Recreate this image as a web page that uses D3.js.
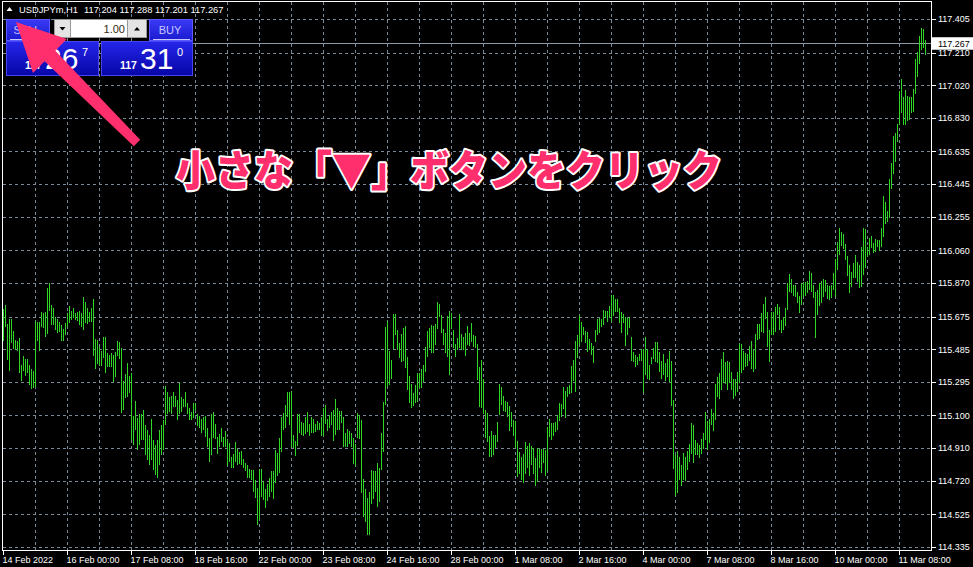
<!DOCTYPE html>
<html><head><meta charset="utf-8">
<script src="https://cdn.jsdelivr.net/npm/d3@7/dist/d3.min.js"></script>
<style>html,body{margin:0;padding:0;background:#000;overflow:hidden}</style>
</head><body>
<svg id="c" width="973" height="567"></svg>
<script>
// ---------- DATA ----------
const symbolTitle = "USDJPYm,H1";
const ohlcLast = ["117.204","117.288","117.201","117.267"];
const currentPrice = 117.267;
const priceTicks = [117.405,117.210,117.020,116.830,116.635,116.445,116.255,116.060,115.870,115.675,115.485,115.295,115.100,114.910,114.720,114.525,114.335];
const timeLabels = ["14 Feb 2022","16 Feb 00:00","17 Feb 08:00","18 Feb 16:00","22 Feb 00:00","23 Feb 08:00","24 Feb 16:00","28 Feb 00:00","1 Mar 08:00","2 Mar 16:00","4 Mar 00:00","7 Mar 08:00","8 Mar 16:00","10 Mar 00:00","11 Mar 08:00"];
const timeLabelBars = [0,32,64,96,128,160,192,224,256,288,320,352,384,416,448];
const highs = [
115.720,115.745,115.635,115.662,115.662,115.594,115.542,115.538,115.552,115.397,
115.449,115.430,115.430,115.397,115.371,115.361,115.654,115.644,115.644,115.702,
115.696,115.702,115.842,115.871,115.745,115.726,115.677,115.662,115.648,115.629,
115.604,115.639,115.700,115.739,115.712,115.729,115.696,115.704,115.710,115.700,
115.793,115.761,115.729,115.706,115.729,115.780,115.548,115.542,115.500,115.480,
115.557,115.557,115.468,115.455,115.465,115.455,115.474,115.536,115.530,115.494,
115.303,115.344,115.406,115.333,115.352,115.102,115.187,115.090,115.112,115.112,
115.135,115.048,115.019,114.990,115.083,114.961,114.932,114.961,115.019,115.048,
115.077,115.274,115.240,115.211,115.215,115.240,115.216,115.193,115.294,115.212,
115.197,115.240,115.177,115.148,115.122,115.174,115.174,115.112,115.100,115.081,
115.096,115.100,115.029,114.971,115.110,115.122,115.054,114.980,114.994,115.029,
114.980,115.013,114.965,114.941,114.863,114.880,114.947,114.909,114.889,114.897,
114.849,114.829,114.816,114.792,114.787,114.787,114.728,114.680,114.791,114.792,
114.722,114.674,114.703,114.738,114.777,114.781,114.903,114.884,114.974,115.096,
115.116,115.164,115.238,115.238,115.245,114.990,114.955,115.112,115.112,115.063,
115.058,115.096,115.122,115.054,115.096,115.083,115.054,115.071,115.061,115.091,
115.145,115.164,115.083,115.106,115.125,115.135,115.199,115.145,115.129,115.129,
115.091,115.000,115.023,115.013,115.000,114.971,114.938,115.116,115.106,115.077,
114.734,114.676,114.625,114.657,114.787,114.781,114.781,114.826,114.796,115.000,
115.180,115.619,115.654,115.478,115.426,115.693,115.693,115.600,115.523,115.577,
115.610,115.623,115.445,115.333,115.286,115.232,115.280,115.348,115.352,115.371,
115.397,115.503,115.596,115.610,115.629,115.623,115.635,115.761,115.751,115.687,
115.604,115.581,115.681,115.710,115.696,115.600,115.517,115.552,115.693,115.577,
115.557,115.581,115.623,115.581,115.642,115.571,115.565,115.517,115.383,115.426,
115.313,115.135,115.116,114.984,115.013,114.990,114.990,115.067,115.286,115.270,
115.216,115.189,115.180,115.158,115.122,115.077,115.073,114.955,114.893,114.863,
114.880,114.947,114.926,114.945,114.926,114.913,114.855,114.913,114.909,114.907,
114.909,114.899,115.038,115.081,115.058,115.058,115.067,115.106,115.174,115.170,
115.267,115.247,115.267,115.280,115.391,115.426,115.538,115.571,115.687,115.648,
115.619,115.594,115.590,115.546,115.523,115.507,115.600,115.662,115.668,115.662,
115.716,115.712,115.710,115.739,115.803,115.803,115.780,115.778,115.729,115.702,
115.693,115.674,115.671,115.677,115.561,115.474,115.455,115.445,115.461,115.488,
115.488,115.561,115.488,115.397,115.445,115.494,115.532,115.532,115.474,115.420,
115.461,115.410,115.430,115.480,115.420,115.193,114.870,114.897,114.863,114.816,
114.887,114.863,114.897,114.938,115.058,115.048,114.961,114.941,114.932,114.965,
115.000,115.123,115.073,115.081,115.139,115.119,115.286,115.328,115.348,115.430,
115.474,115.416,115.420,115.412,115.357,115.313,115.317,115.356,115.523,115.519,
115.480,115.468,115.459,115.507,115.536,115.484,115.577,115.635,115.635,115.700,
115.751,115.790,115.702,115.600,115.706,115.702,115.731,115.751,115.735,115.658,
115.677,115.726,115.871,115.925,115.894,115.861,115.861,115.822,115.797,115.874,
115.880,115.880,115.884,115.943,115.929,115.861,115.822,115.832,115.871,115.886,
115.894,115.890,115.861,115.855,115.861,115.929,116.011,116.109,116.191,116.171,
116.156,116.098,116.030,115.977,115.935,115.987,116.036,115.993,115.977,116.084,
116.191,116.185,116.084,116.136,116.146,116.104,116.127,116.123,116.123,116.191,
116.378,116.345,116.293,116.475,116.568,116.729,116.746,116.797,116.988,117.058,
116.955,116.994,116.959,116.955,116.952,117.000,117.178,117.217,117.308,117.353,
117.349,117.288];
const lows = [
115.538,115.619,115.426,115.363,115.526,115.488,115.484,115.480,115.352,115.305,
115.363,115.333,115.352,115.280,115.255,115.261,115.270,115.538,115.480,115.619,
115.610,115.561,115.575,115.712,115.629,115.629,115.600,115.584,115.590,115.538,
115.538,115.571,115.615,115.639,115.658,115.668,115.658,115.654,115.629,115.615,
115.600,115.639,115.635,115.648,115.648,115.449,115.375,115.403,115.393,115.391,
115.436,115.352,115.387,115.387,115.387,115.299,115.328,115.449,115.430,115.119,
115.135,115.205,115.212,115.236,114.961,114.932,115.019,114.903,114.932,114.961,
114.961,114.874,114.845,114.816,114.845,114.787,114.757,114.740,114.816,114.874,
114.903,115.050,115.112,115.122,115.112,115.151,115.151,115.077,115.112,115.122,
115.151,115.154,115.112,115.077,115.077,115.087,115.135,115.040,115.030,115.003,
115.019,114.980,114.922,114.835,114.870,114.971,114.965,114.880,114.922,114.951,
114.922,114.922,114.806,114.835,114.796,114.800,114.835,114.812,114.822,114.812,
114.796,114.777,114.738,114.738,114.728,114.657,114.622,114.463,114.496,114.631,
114.612,114.567,114.606,114.631,114.660,114.618,114.709,114.748,114.767,114.893,
115.019,115.029,115.096,115.048,114.922,114.913,114.868,114.927,115.000,114.990,
114.984,114.996,115.006,114.984,115.000,115.000,115.009,115.019,115.019,114.986,
114.986,115.054,115.015,115.029,115.048,114.957,114.990,115.019,115.019,115.058,
114.922,114.922,114.922,114.938,114.922,114.822,114.810,114.971,114.965,114.651,
114.511,114.486,114.409,114.405,114.589,114.618,114.660,114.573,114.602,114.783,
114.893,115.164,115.267,115.280,115.313,115.488,115.571,115.484,115.436,115.416,
115.422,115.377,115.251,115.177,115.145,115.158,115.177,115.183,115.261,115.261,
115.299,115.357,115.441,115.494,115.468,115.465,115.513,115.604,115.674,115.584,
115.513,115.468,115.445,115.338,115.604,115.494,115.445,115.484,115.494,115.484,
115.484,115.449,115.513,115.507,115.532,115.503,115.494,115.309,115.154,115.145,
115.112,114.971,114.951,114.860,114.860,114.870,114.913,114.951,115.106,115.164,
115.131,115.125,115.096,115.015,115.038,114.986,114.913,114.744,114.763,114.728,
114.709,114.761,114.796,114.748,114.816,114.763,114.695,114.718,114.796,114.771,
114.826,114.748,114.777,114.976,114.961,114.984,115.009,115.019,115.073,115.096,
115.141,115.087,115.209,115.226,115.232,115.305,115.242,115.436,115.513,115.532,
115.571,115.526,115.474,115.484,115.455,115.410,115.532,115.571,115.581,115.619,
115.629,115.668,115.648,115.674,115.648,115.681,115.706,115.702,115.639,115.584,
115.642,115.507,115.571,115.610,115.422,115.416,115.383,115.397,115.422,115.422,
115.232,115.338,115.313,115.309,115.403,115.432,115.416,115.410,115.357,115.313,
115.338,115.305,115.328,115.299,115.158,114.791,114.635,114.651,114.728,114.695,
114.728,114.724,114.783,114.831,114.880,114.826,114.870,114.874,114.858,114.880,
114.907,114.961,114.903,114.945,115.048,115.015,115.077,115.209,115.197,115.251,
115.294,115.286,115.251,115.290,115.251,115.201,115.218,115.242,115.294,115.352,
115.367,115.383,115.391,115.422,115.371,115.357,115.373,115.542,115.546,115.590,
115.584,115.662,115.500,115.416,115.571,115.571,115.590,115.687,115.600,115.584,
115.600,115.625,115.716,115.822,115.816,115.797,115.793,115.755,115.700,115.745,
115.793,115.797,115.813,115.832,115.822,115.784,115.552,115.687,115.740,115.755,
115.793,115.822,115.778,115.774,115.784,115.832,115.793,115.948,116.036,116.088,
116.069,116.006,115.914,115.813,115.848,115.900,115.900,115.880,115.842,115.848,
115.919,115.958,116.026,116.036,116.074,116.045,116.055,116.080,116.061,116.084,
116.142,116.216,116.229,116.249,116.417,116.506,116.574,116.694,116.791,116.862,
116.791,116.791,116.816,116.820,116.862,116.868,116.971,117.071,117.145,117.227,
117.237,117.201];
const annotation = "小さな「▼」ボタンをクリック";

// ---------- DRAW ----------
const svg = d3.select("#c");
const FONT = "'Liberation Sans', Arial, sans-serif";
const fL = 2.5, fR = 931.5, fT = 1.5, fB = 550.5;
const xS = d3.scaleLinear().domain([0, 464]).range([3.5, 931.5]);
const yS = d3.scaleLinear().domain([114.335, 117.405]).range([547.5, 19.5]);
const snap = v => Math.round(v - 0.5) + 0.5;

svg.append("rect").attr("width",973).attr("height",567).attr("fill","#000");

// grid
const grid = svg.append("g").attr("stroke","#778899").attr("stroke-width",1)
  .attr("stroke-dasharray","3,3").attr("shape-rendering","crispEdges");
priceTicks.forEach(v => {
  const yy = snap(yS(v));
  grid.append("line").attr("x1",fL).attr("x2",fR).attr("y1",yy).attr("y2",yy);
});
d3.range(16, 464, 16).forEach(k => {
  grid.append("line").attr("x1",xS(k)).attr("x2",xS(k)).attr("y1",fT).attr("y2",fB);
});

// current price line
svg.append("line").attr("x1",fL).attr("x2",fR)
  .attr("y1",snap(yS(currentPrice))).attr("y2",snap(yS(currentPrice)))
  .attr("stroke","#8e98a4").attr("stroke-width",1).attr("shape-rendering","crispEdges");

// bars
svg.append("g").attr("stroke","#2fd626").attr("stroke-width",1).attr("shape-rendering","crispEdges")
  .selectAll("line").data(highs).join("line")
  .attr("x1",(d,i)=>xS(i)).attr("x2",(d,i)=>xS(i))
  .attr("y1",d=>Math.round(yS(d))).attr("y2",(d,i)=>Math.max(Math.round(yS(lows[i])), Math.round(yS(d))+2));

// frame
svg.append("rect").attr("x",fL).attr("y",fT).attr("width",fR-fL).attr("height",fB-fT)
  .attr("fill","none").attr("stroke","#fff").attr("stroke-width",1).attr("shape-rendering","crispEdges");

// right axis
const ay = svg.append("g").attr("transform",`translate(${fR},0)`)
  .call(d3.axisRight(yS).tickValues(priceTicks).tickFormat(d3.format(".3f")).tickSize(4).tickPadding(2.5).offset(0));
ay.select(".domain").remove();
ay.selectAll("line").attr("stroke","#fff").attr("shape-rendering","crispEdges");
ay.selectAll("text").attr("fill","#fff").attr("font-family",FONT).attr("font-size","9px");

// bottom axis
const ax = svg.append("g").attr("transform",`translate(0,${fB})`)
  .call(d3.axisBottom(xS).tickValues(timeLabelBars).tickFormat((d,i)=>timeLabels[i]).tickSize(4).tickPadding(2.5).offset(0));
ax.select(".domain").remove();
ax.selectAll("line").attr("stroke","#fff").attr("shape-rendering","crispEdges");
ax.selectAll("text").attr("fill","#fff").attr("font-family",FONT).attr("font-size","9px")
  .attr("text-anchor","start").attr("x",-1);

// current price box
const cpY = yS(currentPrice);
svg.append("rect").attr("x",932).attr("y",cpY-6).attr("width",41).attr("height",12.5).attr("fill","#fff");
svg.append("text").attr("x",938).attr("y",cpY+3.3).attr("fill","#000")
  .attr("font-family",FONT).attr("font-size","9px").text(d3.format(".3f")(currentPrice));

// title line
svg.append("path").attr("d","M6.5,11 L9.5,7 L12.5,11 Z").attr("fill","#fff");
svg.append("text").attr("x",19).attr("y",12.5).attr("fill","#fff").attr("font-family",FONT).attr("font-size","9.3px").text(symbolTitle);
svg.append("text").attr("x",84).attr("y",12.5).attr("fill","#fff").attr("font-family",FONT).attr("font-size","9.3px").text(ohlcLast.join(" "));

// one-click panel
const defs = svg.append("defs");
const g1 = defs.append("linearGradient").attr("id","btn").attr("x1",0).attr("y1",0).attr("x2",0).attr("y2",1);
g1.append("stop").attr("offset","0").attr("stop-color","#3a3af5");
g1.append("stop").attr("offset","1").attr("stop-color","#1a1ad0");
const g2 = defs.append("linearGradient").attr("id","pbox").attr("x1",0).attr("y1",0).attr("x2",0).attr("y2",1);
g2.append("stop").attr("offset","0").attr("stop-color","#2525ea");
g2.append("stop").attr("offset","1").attr("stop-color","#0606a6");

const panel = svg.append("g");
panel.append("rect").attr("x",6.5).attr("y",19.5).attr("width",43).attr("height",21).attr("fill","url(#btn)").attr("stroke","#5a5aff");
panel.append("rect").attr("x",149.5).attr("y",19.5).attr("width",43).attr("height",21).attr("fill","url(#btn)").attr("stroke","#5a5aff");
panel.append("line").attr("x1",10).attr("x2",48).attr("y1",39.5).attr("y2",39.5).attr("stroke","#c8c8ff");
panel.append("line").attr("x1",153).attr("x2",190).attr("y1",39.5).attr("y2",39.5).attr("stroke","#c8c8ff");
panel.append("text").attr("x",27).attr("y",33.5).attr("text-anchor","middle").attr("fill","#c8c8ff").attr("font-family",FONT).attr("font-size","11px").text("SELL");
panel.append("text").attr("x",170).attr("y",33.5).attr("text-anchor","middle").attr("fill","#c8c8ff").attr("font-family",FONT).attr("font-size","11px").text("BUY");
panel.append("rect").attr("x",54.5).attr("y",19.5).attr("width",16).attr("height",18).attr("fill","#e4e4e4").attr("stroke","#9a9a9a");
panel.append("path").attr("d","M59.5,27 L65.5,27 L62.5,30.5 Z").attr("fill","#000");
panel.append("rect").attr("x",70.5).attr("y",19.5).attr("width",57).attr("height",18).attr("fill","#fff").attr("stroke","#9a9a9a");
panel.append("text").attr("x",125).attr("y",32.5).attr("text-anchor","end").attr("fill","#332a10").attr("font-family",FONT).attr("font-size","11px").text("1.00");
panel.append("rect").attr("x",127.5).attr("y",19.5).attr("width",19).attr("height",18).attr("fill","#e4e4e4").attr("stroke","#9a9a9a");
panel.append("path").attr("d","M134,30.5 L140,30.5 L137,27 Z").attr("fill","#000");
panel.append("rect").attr("x",6.5).attr("y",41.5).attr("width",92).attr("height",34).attr("fill","url(#pbox)").attr("stroke","#4646f0");
panel.append("rect").attr("x",101.5).attr("y",41.5).attr("width",91).attr("height",34).attr("fill","url(#pbox)").attr("stroke","#4646f0");
function priceParts(x0, small, big, sup) {
  panel.append("text").attr("x",x0).attr("y",68.5).attr("fill","#fff").attr("font-family",FONT).attr("font-weight","bold").attr("font-size","10.5px").text(small);
  panel.append("text").attr("x",x0+20).attr("y",68.5).attr("fill","#fff").attr("font-family",FONT).attr("font-size","30px").text(big);
  panel.append("text").attr("x",x0+57).attr("y",55.5).attr("fill","#fff").attr("font-family",FONT).attr("font-size","11px").text(sup);
}
priceParts(25,"117","26","7");
priceParts(120,"117","31","0");

// pink arrow
const aTip=[16,22], aTail=[137,143];
const aLen=Math.hypot(aTail[0]-aTip[0],aTail[1]-aTip[1]);
const uu=[(aTip[0]-aTail[0])/aLen,(aTip[1]-aTail[1])/aLen], nn=[-uu[1],uu[0]];
const hl=48, hw=24, sw1=7.5, sw2=4.5;
const aB=[aTip[0]-uu[0]*hl, aTip[1]-uu[1]*hl];
const P=(p,k,s)=>[p[0]+nn[0]*k*s, p[1]+nn[1]*k*s];
const pts=[aTip,P(aB,1,hw),P(aB,1,sw1),P(aTail,1,sw2),P(aTail,-1,sw2),P(aB,-1,sw1),P(aB,-1,hw)];
svg.append("path").attr("d","M"+pts.map(p=>p.join(",")).join("L")+"Z").attr("fill","#ff2f6e");

// annotation
svg.append("text").attr("x",176).attr("y",186)
  .attr("font-family","'Noto Sans CJK JP', sans-serif").attr("font-weight","900").attr("font-size","42px")
  .attr("textLength",546).attr("lengthAdjust","spacingAndGlyphs")
  .attr("fill","#ff2f6e").attr("stroke","#fff").attr("stroke-width",4).attr("stroke-linejoin","round")
  .attr("paint-order","stroke").text(annotation);
</script>
</body></html>
